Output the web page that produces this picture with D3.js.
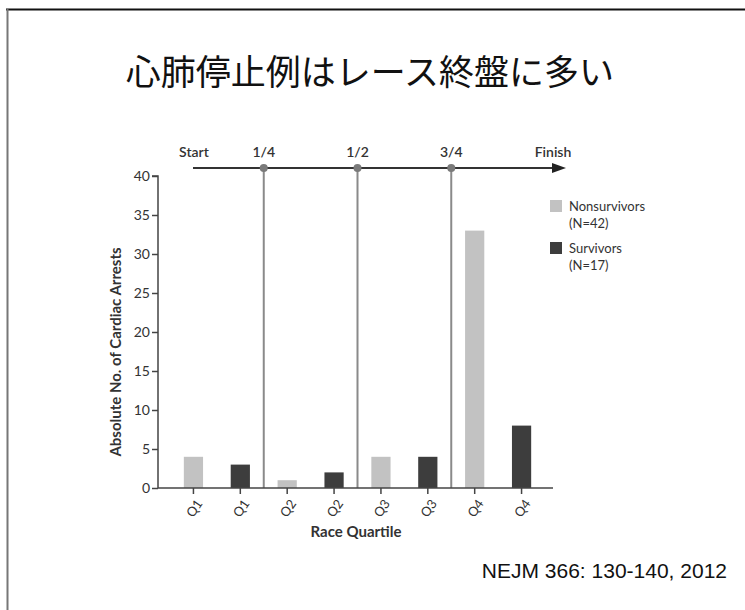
<!DOCTYPE html>
<html><head><meta charset="utf-8">
<script src="https://cdn.jsdelivr.net/npm/d3@7"></script>
<style>
html,body{margin:0;padding:0;background:#fff;}
svg{display:block;}
</style></head>
<body>
<svg id="chart" width="745" height="610"></svg>
<script>
const title = "心肺停止例はレース終盤に多い";
const citation = "NEJM 366: 130-140, 2012";
const categories = ["Q1","Q1","Q2","Q2","Q3","Q3","Q4","Q4"];
const groups = ["non","surv","non","surv","non","surv","non","surv"];
const values = [4,3,1,2,4,4,33,8];
const yTicks = [0,5,10,15,20,25,30,35,40];
const progressLabels = ["Start","1/4","1/2","3/4","Finish"];
const legendLabels = [["Nonsurvivors","(N=42)"],["Survivors","(N=17)"]];
const colors = {non:"#c2c2c2", surv:"#3d3d3d"};

const svg = d3.select("#chart");
const font = "Lato, 'Open Sans', sans-serif";

// frame
svg.append("line").attr("x1",6).attr("x2",745).attr("y1",9.5).attr("y2",9.5).attr("stroke","#111").attr("stroke-width",2);
svg.append("line").attr("x1",7.5).attr("x2",7.5).attr("y1",9).attr("y2",610).attr("stroke","#777").attr("stroke-width",2);

svg.append("text").attr("x",370).attr("y",85).attr("text-anchor","middle")
  .attr("font-family","'Noto Sans CJK JP', sans-serif").attr("font-size",35).attr("fill","#111").text(title);

const x = d3.scaleBand().domain(d3.range(categories.length)).range([170,545]).paddingInner(0.59).paddingOuter(0.295);
const y = d3.scaleLinear().domain([0,40]).range([488,176]);
const step = x.step();
const axisLeft = 158, axisRight = 553;

// y axis
const gy = svg.append("g").attr("transform",`translate(${axisLeft},0)`)
  .call(d3.axisLeft(y).tickValues(yTicks).tickSize(6).tickPadding(2));
gy.select(".domain").attr("stroke","#444").attr("stroke-width",1.5).attr("d",`M-6,${y(40)}H0V${y(0)}`);
gy.selectAll(".tick line").attr("stroke","#444").attr("stroke-width",1.5);
gy.selectAll(".tick text").attr("font-family",font).attr("font-size",14).attr("fill","#333");

// vertical quartile lines
const boundaries = [1,2,3].map(q => x(q*2) - (step - x.bandwidth())/2);
const lineY = 168;
svg.selectAll(".vline").data(boundaries).join("line")
  .attr("x1",d=>d).attr("x2",d=>d).attr("y1",lineY).attr("y2",y(0))
  .attr("stroke","#8a8a8a").attr("stroke-width",2);

// bars
svg.selectAll(".bar").data(values).join("rect")
  .attr("x",(d,i)=>x(i)).attr("width",x.bandwidth())
  .attr("y",d=>y(d)).attr("height",d=>y(0)-y(d))
  .attr("fill",(d,i)=>colors[groups[i]]);

// x axis
svg.append("line").attr("x1",axisLeft).attr("x2",axisRight).attr("y1",y(0)).attr("y2",y(0))
  .attr("stroke","#444").attr("stroke-width",1.5);
categories.forEach((c,i)=>{
  const cx = x(i)+x.bandwidth()/2;
  svg.append("line").attr("x1",cx).attr("x2",cx).attr("y1",y(0)).attr("y2",y(0)+6).attr("stroke","#444").attr("stroke-width",1.5);
  svg.append("text").attr("transform",`translate(${cx+6},${y(0)+13}) rotate(-55)`)
    .attr("text-anchor","end").attr("dy","0.35em")
    .attr("font-family",font).attr("font-size",13).attr("fill","#333").text(c);
});

// axis titles
svg.append("text").attr("x",356).attr("y",537).attr("text-anchor","middle")
  .attr("font-family",font).attr("font-weight","bold").attr("font-size",15).attr("fill","#333").text("Race Quartile");
svg.append("text").attr("transform",`translate(121,352) rotate(-90)`).attr("text-anchor","middle")
  .attr("font-family",font).attr("font-weight","bold").attr("font-size",15).attr("fill","#333").text("Absolute No. of Cardiac Arrests");

// progress arrow
const arrowStart = 193, arrowEnd = 566;
svg.append("line").attr("x1",arrowStart).attr("x2",arrowEnd-10).attr("y1",lineY).attr("y2",lineY).attr("stroke","#333").attr("stroke-width",2);
svg.append("path").attr("d",`M${arrowEnd},${lineY}L${arrowEnd-14},${lineY-5}L${arrowEnd-14},${lineY+5}Z`).attr("fill","#222");
svg.selectAll(".dot").data(boundaries).join("circle")
  .attr("cx",d=>d).attr("cy",lineY).attr("r",4).attr("fill","#7a7a7a");
const labelX = [arrowStart+1, ...boundaries, 553];
progressLabels.forEach((t,i)=>{
  svg.append("text").attr("x",labelX[i]).attr("y",157).attr("text-anchor","middle")
    .attr("font-family",font).attr("font-size",14).attr("font-weight",600).attr("fill","#333").text(t);
});

// legend
const legY = [200,242];
["non","surv"].forEach((g,i)=>{
  svg.append("rect").attr("x",550).attr("y",legY[i]).attr("width",12).attr("height",12).attr("fill",colors[g]);
  svg.append("text").attr("x",569).attr("y",legY[i]+11).attr("font-family",font).attr("font-size",13).attr("fill","#333").text(legendLabels[i][0]);
  svg.append("text").attr("x",569).attr("y",legY[i]+28).attr("font-family",font).attr("font-size",13).attr("fill","#333").text(legendLabels[i][1]);
});

svg.append("text").attr("x",727).attr("y",578).attr("text-anchor","end")
  .attr("font-family","'Liberation Sans', Arial, sans-serif").attr("font-size",21).attr("fill","#111").text(citation);
</script>
</body></html>
